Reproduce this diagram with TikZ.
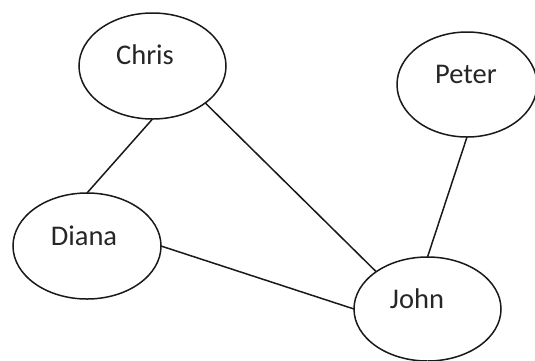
\documentclass[tikz,border=0pt]{standalone}
\usepackage{fontspec}
\setmainfont{Carlito}
\usetikzlibrary{shapes.geometric}
\begin{document}
\begin{tikzpicture}[x=1pt,y=-1pt,
  person/.style={draw, ellipse, line width=1.5pt, inner sep=0pt, outer sep=0pt, color=black!90},
  personlabel/.style={anchor=base, font=\fontsize{28.5}{30}\selectfont, text=black!85},
  link/.style={line width=1.5pt, color=black!90}]
\useasboundingbox (0,0) rectangle (535,360);
\fill[white] (0,0) rectangle (535,360);

% people
\node[person, minimum width=147pt, minimum height=106pt] (chris) at (152.5,66) {};
\node[person, minimum width=140pt, minimum height=105pt] (peter) at (467,84.5) {};
\node[person, minimum width=148pt, minimum height=106pt] (diana) at (87,246) {};
\node[person, minimum width=147pt, minimum height=104pt] (john) at (427.5,309) {};

% names
\node[personlabel] (chrisname) at (145,64) {Chris};
\node[personlabel] (petername) at (466,83) {Peter};
\node[personlabel] (diananame) at (84,245) {Diana};
\node[personlabel] (johnname) at (417,308) {John};

% relations
\draw[link] (chris.south) -- (diana.north);
\draw[link] (chris.-35) -- (john.144);
\draw[link] (peter.south) -- (john.north);
\draw[link] (diana.east) -- (john.west);
\end{tikzpicture}
\end{document}
